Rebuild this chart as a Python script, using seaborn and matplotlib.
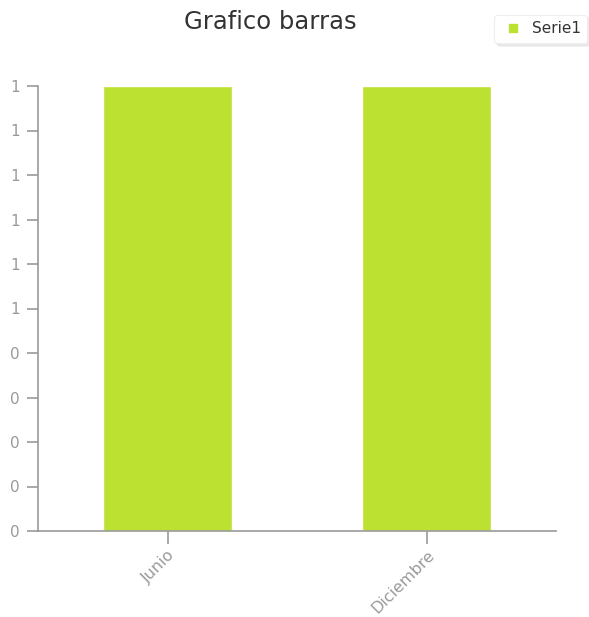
import pandas as pd
import matplotlib.pyplot as plt
import seaborn as sns

# data
categories = ["Junio", "Diciembre"]
values = [1, 1]
series_name = "Serie1"
y_ticks = [0, 0.1, 0.2, 0.3, 0.4, 0.5, 0.6, 0.7, 0.8, 0.9, 1.0]
y_tick_labels = ["0", "0", "0", "0", "0", "1", "1", "1", "1", "1", "1"]

BAR_COLOR = "#bde130"
AXIS_COLOR = "#9a9a9a"

sns.set_style("white")
plt.rcParams['font.family'] = ['DejaVu Sans']

df = pd.DataFrame({"mes": categories, "valor": values, "serie": series_name})

fig = plt.figure(figsize=(5.89, 6.17), dpi=100)
ax = fig.add_axes([38 / 589, 1 - 531 / 617, (556 - 38) / 589, (531 - 86) / 617])

sns.barplot(data=df, x="mes", y="valor", hue="serie", palette=[BAR_COLOR],
            width=0.5, saturation=1, ax=ax, legend=False)

ax.set_xlim(-0.5, 1.5)
ax.set_ylim(0, 1)
ax.set_yticks(y_ticks)
ax.set_yticklabels(y_tick_labels)
ax.set_xlabel("")
ax.set_ylabel("")

for side in ["top", "right"]:
    ax.spines[side].set_visible(False)
for side in ["left", "bottom"]:
    ax.spines[side].set_color(AXIS_COLOR)
    ax.spines[side].set_linewidth(1.2)

ax.tick_params(axis="y", direction="out", length=8, width=1.2, color=AXIS_COLOR,
               labelcolor=AXIS_COLOR, labelsize=11, pad=5, left=True)
ax.tick_params(axis="x", direction="out", length=9, width=1.2, color=AXIS_COLOR,
               labelcolor=AXIS_COLOR, labelsize=11.5, pad=3, bottom=True)
for lbl in ax.get_xticklabels():
    lbl.set_rotation(45)
    lbl.set_ha("right")
    lbl.set_va("top")
    lbl.set_rotation_mode("anchor")

fig.text(270 / 589, 1 - 22 / 617, "Grafico barras", ha="center", va="center",
         fontsize=17.5, color="#333333")

handle = plt.Line2D([], [], marker="s", linestyle="", markersize=6,
                    markerfacecolor=BAR_COLOR, markeredgecolor=BAR_COLOR)
leg = fig.legend([handle], [series_name], loc="upper right",
                 bbox_to_anchor=(589 / 589, 1 - 13 / 617), frameon=True,
                 fancybox=True, shadow={"color": "#dddddd", "alpha": 0.6},
                 fontsize=11, handletextpad=0.4, borderpad=0.45, handlelength=1.6,
                 borderaxespad=0.1)
leg.get_frame().set_edgecolor("#eeeeee")
leg.get_frame().set_linewidth(0.8)
for t in leg.get_texts():
    t.set_color("#333333")

fig.savefig("out.png", dpi=100)
